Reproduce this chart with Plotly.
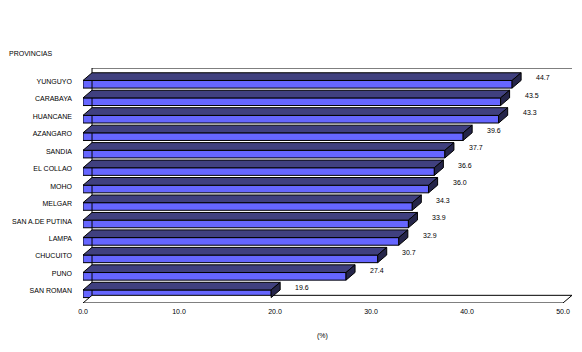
import plotly.graph_objects as go

provincias = ["YUNGUYO", "CARABAYA", "HUANCANE", "AZANGARO", "SANDIA", "EL COLLAO",
              "MOHO", "MELGAR", "SAN A.DE PUTINA", "LAMPA", "CHUCUITO", "PUNO", "SAN ROMAN"]
valores = [44.7, 43.5, 43.3, 39.6, 37.7, 36.6, 36.0, 34.3, 33.9, 32.9, 30.7, 27.4, 19.6]
x_ticks = [0, 10, 20, 30, 40, 50]
x_title = "(%)"
y_title = "PROVINCIAS"

# geometry of the pseudo-3D effect (in data units)
H = 0.436     # front face height
DX = 0.94     # depth offset along x
DY = 0.44     # depth offset along y
XMAX = 50
YLOW = -0.31
YTOP = 13.15

FRONT = "#6666FF"
TOP = "#40407F"
SIDE = "#25254A"
FONT = dict(family="Liberation Sans", size=7, color="black")

n = len(provincias)
pos = [n - 1 - i for i in range(n)]  # bottom index for each category

fig = go.Figure()

# floor
fig.add_trace(go.Scatter(
    x=[0, XMAX, XMAX + DX, DX, 0], y=[YLOW, YLOW, YLOW + DY, YLOW + DY, YLOW],
    mode="lines", fill="toself", fillcolor="white",
    line=dict(color="black", width=1), hoverinfo="skip", showlegend=False))
# back walls
fig.add_trace(go.Scatter(
    x=[DX, DX, XMAX + DX], y=[YLOW + DY, YTOP, YTOP],
    mode="lines", line=dict(color="black", width=1), hoverinfo="skip", showlegend=False))

# front faces
fig.add_trace(go.Bar(
    x=valores, y=[p + H / 2 for p in pos], base=0, width=H, orientation="h",
    marker=dict(color=FRONT, line=dict(color="black", width=1)),
    hoverinfo="x", showlegend=False))

# top and side faces
for v, p in zip(valores, pos):
    y0 = p + H
    fig.add_trace(go.Scatter(
        x=[0, v, v + DX, DX, 0], y=[y0, y0, y0 + DY, y0 + DY, y0],
        mode="lines", fill="toself", fillcolor=TOP,
        line=dict(color="black", width=1), hoverinfo="skip", showlegend=False))
    fig.add_trace(go.Scatter(
        x=[v, v, v + DX, v + DX, v], y=[p, y0, y0 + DY, p + DY, p],
        mode="lines", fill="toself", fillcolor=SIDE,
        line=dict(color="black", width=1), hoverinfo="skip", showlegend=False))

# value labels
for v, p in zip(valores, pos):
    fig.add_annotation(x=v + DX, y=p + 0.58, text=f"{v:.1f}", showarrow=False,
                       xanchor="left", yanchor="middle", xshift=13, font=FONT)

fig.add_annotation(x=25, y=-0.14, xref="x", yref="paper", text=x_title, showarrow=False,
                   xanchor="center", yanchor="middle", font=FONT)
fig.add_annotation(x=0, y=1, xref="paper", yref="paper", text=y_title, showarrow=False,
                   xanchor="left", yanchor="middle", xshift=-76, yshift=15, font=FONT)

fig.update_layout(
    width=582, height=352,
    margin=dict(l=83, r=10, t=68, b=49),
    paper_bgcolor="white", plot_bgcolor="white",
    barmode="overlay",
    xaxis=dict(range=[0, XMAX + DX], tickvals=x_ticks, tickformat=".1f",
               showgrid=False, zeroline=False, showline=False, ticks="",
               tickfont=FONT, ticklabelstandoff=3),
    yaxis=dict(range=[YLOW, YTOP], tickvals=[p + 0.38 for p in pos], ticktext=provincias,
               showgrid=False, zeroline=False, showline=False, ticks="",
               tickfont=FONT, ticklabelstandoff=10),
)

fig.write_html("out.html")
